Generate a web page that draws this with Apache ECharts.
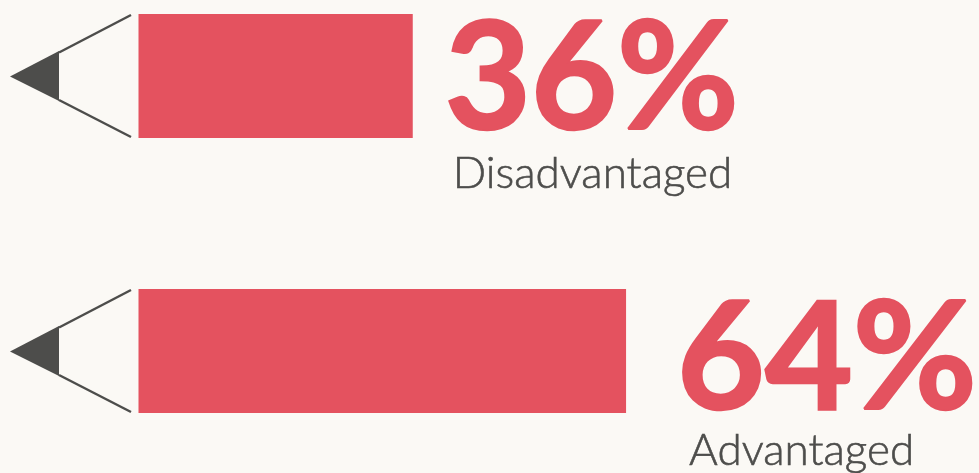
<!DOCTYPE html>
<html><head><meta charset="utf-8">
<style>html,body{margin:0;padding:0;background:#FBF9F5}#c{width:979px;height:473px}</style>
<script src="https://cdn.jsdelivr.net/npm/echarts@6/dist/echarts.min.js"></script>
</head><body><div id="c"></div>
<script>
const categories = ['Disadvantaged', 'Advantaged'];
const shares = [36, 64];
const BG = '#FBF9F5', RED = '#E4525F', INK = '#4D4D4B';
// label placement relative to each bar's end and centre (px)
const labelOffsets = [
  {valueX: 32, valueY: -70, valueScale: 0.99, captionX: 40, captionY: 76},
  {valueX: 51, valueY: -65, valueScale: 1.01, captionX: 63, captionY: 78}
];
const chart = echarts.init(document.getElementById('c'), null, {renderer: 'canvas'});
chart.setOption({
  backgroundColor: BG,
  animation: false,
  grid: {left: 138.5, width: 838, top: 76, height: 275, containLabel: false},
  xAxis: {type: 'value', min: 0, max: 110, show: false},
  yAxis: {type: 'category', data: categories, inverse: true, show: false, boundaryGap: false},
  series: [
    {type: 'bar', data: shares, barWidth: 124, clip: false, itemStyle: {color: RED}, silent: true},
    {type: 'custom', clip: false, silent: true,
     data: shares.map((v, i) => [v, i]),
     encode: {x: 0, y: 1},
     renderItem(params, api) {
       const i = api.value(1), v = api.value(0);
       const [x0, y] = api.coord([0, i]);
       const [x1] = api.coord([v, i]);
       const off = labelOffsets[i];
       const edge = {fill: null, stroke: INK, lineWidth: 2.5};
       return {type: 'group', children: [
         {type: 'polygon', shape: {points: [[x0-128.5, y+0.5], [x0-79.5, y-25], [x0-79.5, y+25]]}, style: {fill: INK}},
         {type: 'polyline', shape: {points: [[x0-7.5, y-61], [x0-79.5, y-23.5]]}, style: edge},
         {type: 'polyline', shape: {points: [[x0-79.5, y+24], [x0-7.5, y+61]]}, style: edge},
         {type: 'text', x: x1 + off.valueX, y: y + off.valueY, scaleX: off.valueScale, style: {x: 0, y: 0, text: v + '%', fill: RED, stroke: RED, lineWidth: 2.5, lineJoin: 'round',
           font: '700 150px Lato', textAlign: 'left', textBaseline: 'top'}},
         {type: 'text', style: {x: x1 + off.captionX, y: y + off.captionY, text: categories[i], fill: INK, stroke: INK, lineWidth: 0.6,
           font: '300 44px Lato', textAlign: 'left', textBaseline: 'middle'}}
       ]};
     }}
  ]
});
</script></body></html>
